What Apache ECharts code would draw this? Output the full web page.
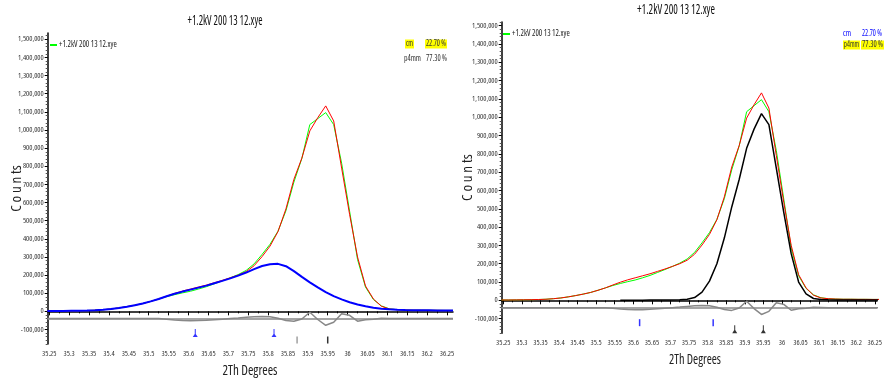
<!DOCTYPE html>
<html>
<head>
<meta charset="utf-8">
<script src="https://cdn.jsdelivr.net/npm/echarts@6/dist/echarts.min.js"></script>
<style>
  html, body { margin: 0; padding: 0; background: #fff; }
  #chart { width: 885px; height: 381px; }
</style>
</head>
<body>
<div id="chart"></div>
<script>
// 2theta sample positions (step ~0.02)
const twoTheta = [35.245, 35.265, 35.285, 35.305, 35.325, 35.345, 35.365, 35.385, 35.405, 35.425,
  35.445, 35.465, 35.485, 35.505, 35.525, 35.545, 35.565, 35.585, 35.605, 35.625,
  35.645, 35.665, 35.685, 35.705, 35.725, 35.745, 35.765, 35.785, 35.805, 35.825,
  35.845, 35.865, 35.885, 35.905, 35.925, 35.945, 35.965, 35.985, 36.005, 36.025,
  36.045, 36.065, 36.085, 36.105, 36.125, 36.145, 36.165, 36.185, 36.205, 36.225,
  36.245, 36.265];

// observed counts (green)
const observed = [2000, 2000, 2500, 3000, 3500, 4500, 6000, 9000, 13000, 19000,
  26000, 34000, 43000, 55000, 68000, 81000, 92000, 102000, 111000, 123000,
  136000, 152000, 168000, 185000, 203000, 226000, 262000, 314000, 370000, 442000,
  555000, 713000, 843000, 1030000, 1063000, 1096000, 1030000, 817000, 553000, 286000,
  134000, 65000, 30000, 14000, 9000, 7000, 6000, 6000, 5500, 5500,
  5000, 5000];

// calculated profile (red)
const calculated = [2000, 2000, 2500, 3000, 3500, 4500, 6000, 9000, 13000, 19000,
  26000, 34000, 43000, 55000, 68000, 84000, 99000, 112000, 123000, 134000,
  145000, 158000, 171000, 185000, 200000, 219000, 252000, 302000, 360000, 440000,
  565000, 728000, 845000, 995000, 1068000, 1133000, 1050000, 790000, 535000, 300000,
  140000, 68000, 28000, 13000, 9000, 7000, 6000, 6000, 5500, 5500,
  5000, 5000];

// difference curve, drawn around the -40,000 offset (grey)
const difference = [-40000, -40000, -40000, -40000, -40000, -40000, -40000, -40000, -40000, -40000,
  -40000, -40000, -40000, -40000, -40000, -43000, -47000, -50000, -52000, -51000,
  -49000, -46000, -43000, -40000, -37000, -33000, -30000, -28000, -30000, -38000,
  -50000, -55000, -42000, -5000, -45000, -77000, -60000, -13000, -22000, -54000,
  -46000, -43000, -38000, -39000, -40000, -40000, -40000, -40000, -40000, -40000,
  -40000, -40000];

// cm phase contribution (blue, left panel)
const cmPhase = [2000, 2000, 2500, 3000, 3500, 4500, 6000, 9000, 13000, 19000,
  26000, 34000, 43000, 55000, 68000, 83000, 97000, 109000, 120000, 131000,
  142000, 155000, 168000, 182000, 197000, 214000, 233000, 250000, 260000, 262000,
  249000, 222000, 190000, 160000, 132000, 106000, 84000, 66000, 50000, 38000,
  28000, 20000, 15000, 11000, 9000, 7500, 6500, 6000, 5500, 5000,
  5000, 5000];

// p4mm phase contribution (black, right panel)
const p4mmPhase = [null, null, null, null, null, null, null, null, null, null,
  null, null, null, null, null, null, 1000, 1000, 1000, 1000,
  1500, 2000, 2000, 2500, 3500, 6000, 15000, 45000, 105000, 200000,
  340000, 510000, 660000, 830000, 935000, 1020000, 960000, 720000, 480000, 255000,
  100000, 35000, 10000, 4000, 3000, 2500, 2000, 2000, 2000, 2000,
  2000, 2000];

// reflection positions
const cmPeaks = [35.617, 35.815];
const p4mmPeaks = [35.873, 35.95];

const xTicks = [35.25, 35.3, 35.35, 35.4, 35.45, 35.5, 35.55, 35.6, 35.65, 35.7, 35.75,
  35.8, 35.85, 35.9, 35.95, 36, 36.05, 36.1, 36.15, 36.2, 36.25];
const yTicks = [-100000, 0, 100000, 200000, 300000, 400000, 500000, 600000, 700000, 800000,
  900000, 1000000, 1100000, 1200000, 1300000, 1400000, 1500000];

const fileName = '+1.2kV 200 13 12.xye';
const diffOffset = -40000;

// pick a condensed sans face if the machine has one (the reference uses a narrow font)
const measureCtx = document.createElement('canvas').getContext('2d');
function textWidth(font, s) {
  measureCtx.font = font;
  return measureCtx.measureText(s).width;
}
function hasFamily(fam) {
  const s = '1,500,000 2Th Degrees';
  return textWidth(`100px ${fam}, monospace`, s) !== textWidth('100px monospace', s) ||
    textWidth(`100px ${fam}, serif`, s) !== textWidth('100px serif', s);
}
function pickFont() {
  const s = '1,500,000 2Th Degrees';
  const base = textWidth("100px 'Liberation Sans'", s);
  for (const fam of ["'Liberation Sans Narrow'", "'DejaVu Sans Condensed'"]) {
    if (hasFamily(fam) && textWidth(`100px ${fam}`, s) < base * 0.92) return { style: 'normal', family: fam };
  }
  for (const fam of ["'Open Sans'", "'Noto Sans'", "'Roboto'", "'DejaVu Sans'", "'Liberation Sans'"]) {
    if (!hasFamily(fam)) continue;
    const a = textWidth(`normal 100px ${fam}`, s);
    const b = textWidth(`condensed 100px ${fam}`, s);
    if (b < a * 0.92 && b < base) return { style: 'condensed', family: fam };
  }
  return { style: 'normal', family: "'Liberation Sans'" };
}
const F = pickFont();
const fontOf = size => `${F.style} normal ${size}px ${F.family}`;
// size the tick labels so that 1,500,000 is about as wide as in the reference
const tickSize = Math.max(6, Math.min(7.5, 26 * 100 / textWidth(fontOf(100), '1,500,000')));
const legendSize = Math.max(6, Math.min(8, 58 * 100 / textWidth(fontOf(100), fileName)));

const yMinor = [];
for (let v = -180000; v <= 1520000; v += 20000) if (v % 100000 !== 0) yMinor.push(v);
const xMinor = xTicks.slice(0, -1).map(v => +(v + 0.025).toFixed(3));

function pairs(arr) {
  const out = [];
  arr.forEach((v, i) => { if (v !== null) out.push([twoTheta[i], v]); });
  return out;
}

function lineSeries(name, arr, color, width, gi) {
  return {
    name: name, type: 'line', xAxisIndex: gi * 2, yAxisIndex: gi * 2,
    data: pairs(arr), showSymbol: false, symbol: 'none', smooth: false,
    lineStyle: { color: color, width: width }, itemStyle: { color: color },
    animation: false
  };
}

const stemTri = 'path://M1.6,0 L2.4,0 L2.4,6 L4,10 L0,10 L1.6,6 Z';

function marks(xs, yLevel, symbol, size, colors, gi) {
  return {
    type: 'scatter', xAxisIndex: gi * 2, yAxisIndex: gi * 2,
    symbol: symbol, symbolSize: size, animation: false, silent: true,
    data: xs.map((x, i) => ({ value: [x, yLevel], itemStyle: { color: colors[i] } }))
  };
}

function axesFor(gi, xMin, xMax, yMax) {
  const xMain = {
    type: 'value', gridIndex: gi, min: xMin, max: xMax, position: 'bottom',
    axisLine: { lineStyle: { color: '#000', width: 1.5 } },
    axisTick: { show: true, length: 4, customValues: xTicks, lineStyle: { color: '#000' } },
    axisLabel: { customValues: xTicks, fontFamily: F.family, fontStyle: F.style, fontSize: tickSize,
      color: '#333', margin: 6, formatter: v => String(v) },
    splitLine: { show: false }
  };
  const xSub = {
    type: 'value', gridIndex: gi, min: xMin, max: xMax, position: 'bottom',
    axisLine: { show: false },
    axisTick: { show: true, length: 2, customValues: xMinor, lineStyle: { color: '#000' } },
    axisLabel: { show: false }, splitLine: { show: false }
  };
  const yMain = {
    type: 'value', gridIndex: gi, min: -180000, max: yMax, position: 'left',
    name: 'C o u n ts', nameLocation: 'middle', nameGap: gi === 0 ? 23 : 26,
    nameMoveOverlap: false,
    nameTextStyle: { fontFamily: F.family, fontStyle: F.style, fontSize: 15, color: '#222' },
    axisLine: { show: true, lineStyle: { color: '#000', width: 1.5 } },
    axisTick: { show: true, length: 3, customValues: yTicks, lineStyle: { color: '#000' } },
    axisLabel: { customValues: yTicks, fontFamily: F.family, fontStyle: F.style, fontSize: tickSize,
      color: '#333', margin: 4, formatter: v => v.toLocaleString('en-US') },
    splitLine: { show: false }
  };
  const ySub = {
    type: 'value', gridIndex: gi, min: -180000, max: yMax, position: 'left',
    axisLine: { show: false },
    axisTick: { show: true, length: 2, customValues: yMinor, lineStyle: { color: '#555' } },
    axisLabel: { show: false }, splitLine: { show: false }
  };
  return { x: [xMain, xSub], y: [yMain, ySub] };
}

const a0 = axesFor(0, 35.246, 36.265, 1535000);
const a1 = axesFor(1, 35.2458, 36.256, 1520000);

// free text squeezed to the width it has in the reference
function txt(x, y, text, color, bg, size, align, width) {
  const w = textWidth(fontOf(size), text) + (bg ? 2 : 0);
  const sx = width ? Math.min(1, width / w) : 1;
  return {
    type: 'text', x: x, y: y, scaleX: sx, silent: true,
    style: { text: text, fill: color, fontFamily: F.family, fontStyle: F.style, fontSize: size,
      backgroundColor: bg || 'transparent', padding: bg ? [1, 1, 0, 1] : 0,
      align: align || 'left', verticalAlign: 'middle' }
  };
}

const legendText = { fontFamily: F.family, fontStyle: F.style, fontSize: legendSize, color: '#222', padding: [0, 0, 0, -3] };

const chart = echarts.init(document.getElementById('chart'));
chart.setOption({
  backgroundColor: '#fff',
  animation: false,
  grid: [
    { left: 47.7, right: 432, top: 33, bottom: 37 },
    { left: 501.7, right: 0, top: 22, bottom: 47.7 }
  ],
  xAxis: [...a0.x, ...a1.x],
  yAxis: [...a0.y, ...a1.y],
  legend: [
    { data: [fileName], left: 50, top: 41, padding: 0, icon: 'rect', itemWidth: 7, itemHeight: 2, itemGap: 4, textStyle: legendText },
    { data: [fileName], left: 503, top: 30, padding: 0, icon: 'rect', itemWidth: 7, itemHeight: 2, itemGap: 4, textStyle: legendText }
  ],
  graphic: [
    txt(225, 21, fileName, '#111', null, 14, 'center', 75),
    txt(676, 10, fileName, '#111', null, 14, 'center', 78),
    txt(250, 371, '2Th Degrees', '#222', null, 15, 'center', 55),
    txt(695, 360, '2Th Degrees', '#222', null, 15, 'center', 52),
    txt(405, 44, 'cm', '#333', '#ffff00', 8, 'left', 9),
    txt(425, 44, '22.70 %', '#333', '#ffff00', 8, 'left', 22),
    txt(404, 59, 'p4mm', '#333', null, 8, 'left', 17),
    txt(426, 59, '77.30 %', '#333', null, 8, 'left', 21),
    txt(843, 34, 'cm', '#0000ff', null, 8, 'left', 8),
    txt(862, 34, '22.70 %', '#0000ff', null, 8, 'left', 20),
    txt(843, 45, 'p4mm', '#333', '#ffff00', 8, 'left', 17),
    txt(861, 45, '77.30 %', '#333', '#ffff00', 8, 'left', 23)
  ],
  series: [
    // left panel
    lineSeries(fileName, observed, '#00ff00', 1, 0),
    lineSeries('calc', calculated, '#ff0000', 1, 0),
    Object.assign(lineSeries('diff', difference, '#888888', 1.5, 0), {
      markLine: { silent: true, symbol: 'none', label: { show: false }, animation: false,
        lineStyle: { color: '#888888', width: 1.5, type: 'solid' }, data: [{ yAxis: diffOffset }] }
    }),
    lineSeries('cm', cmPhase, '#0000ff', 2, 0),
    marks(cmPeaks, -120000, stemTri, [5, 8], ['#0000ff', '#0000ff'], 0),
    marks(p4mmPeaks, -158000, 'rect', [1.5, 7], ['#888888', '#000000'], 0),
    // right panel
    lineSeries(fileName, observed, '#00ff00', 1, 1),
    lineSeries('calc', calculated, '#ff0000', 1, 1),
    Object.assign(lineSeries('diff', difference, '#888888', 1.5, 1), {
      markLine: { silent: true, symbol: 'none', label: { show: false }, animation: false,
        lineStyle: { color: '#888888', width: 1.5, type: 'solid' }, data: [{ yAxis: diffOffset }] }
    }),
    lineSeries('p4mm', p4mmPhase, '#000000', 1.5, 1),
    marks(cmPeaks, -122000, 'rect', [1.5, 7], ['#0000ff', '#0000ff'], 1),
    marks(p4mmPeaks, -158000, stemTri, [5, 8], ['#000000', '#000000'], 1)
  ]
});
</script>
</body>
</html>
